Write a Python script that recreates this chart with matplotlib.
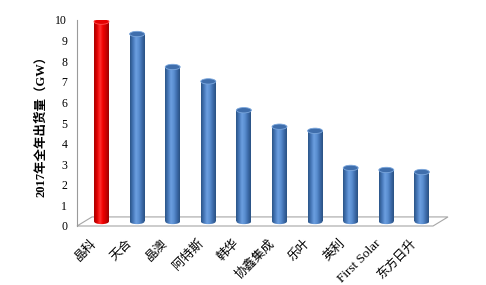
import matplotlib

matplotlib.use("Agg")

import matplotlib.pyplot as plt
import numpy as np
from matplotlib.colors import LinearSegmentedColormap
from matplotlib.patches import Ellipse, Polygon
from matplotlib.transforms import ScaledTranslation

# data
companies = ["晶科", "天合", "晶澳", "阿特斯", "韩华", "协鑫集成", "乐叶", "英利", "First Solar", "东方日升"]
shipments_gw = [9.7, 9.1, 7.5, 6.8, 5.4, 4.6, 4.4, 2.6, 2.5, 2.4]
highlight = [True, False, False, False, False, False, False, False, False, False]

Y_TICKS = list(range(0, 11))
Y_LABEL = "2017年全年出货量（GW）"

# look of the fake 3d cylinders
BAR_WIDTH = 0.42
CAP_H = 0.26          # height of the elliptic caps, in data units
FLOOR_DX = 0.42       # depth shift of the floor, data units
FLOOR_DY = 0.44
BASE = FLOOR_DY / 2   # bars stand in the middle of the floor

BLUE = LinearSegmentedColormap.from_list(
    "blue_cyl", ["#2b5587", "#4677b8", "#6c9fe0", "#5a8ed0", "#3d6cab", "#2a5283"])
RED = LinearSegmentedColormap.from_list(
    "red_cyl", ["#a80000", "#e00000", "#ff3030", "#f20000", "#cc0000", "#9c0000"])

plt.rcParams["font.family"] = ["Liberation Serif", "Noto Sans CJK SC"]

fig = plt.figure(figsize=(4.86, 2.85), dpi=100)
ax = fig.add_axes([77 / 486, 59 / 285, 371 / 486, 206 / 285])

n = len(companies)
x = np.arange(n)
xlim = (-0.688, n - 1 + 0.733)
ylim = (0, 10)

# floor of the 3d plot
floor = Polygon([(xlim[0], 0), (xlim[1] - FLOOR_DX, 0),
                 (xlim[1], FLOOR_DY), (xlim[0] + FLOOR_DX, FLOOR_DY)],
                closed=True, facecolor="white", edgecolor="#a6a6a6",
                linewidth=0.8, zorder=1, clip_on=False)
ax.add_patch(floor)

bars = ax.bar(x, shipments_gw, width=BAR_WIDTH, bottom=BASE,
              color="none", edgecolor="none", zorder=2)

grad = np.linspace(0, 1, 64).reshape(1, -1)
for rect, val, hot in zip(bars, shipments_gw, highlight):
    cmap = RED if hot else BLUE
    x0 = rect.get_x()
    w = rect.get_width()
    xc = x0 + w / 2
    top = BASE + val
    # bottom cap (lower half shows below the body)
    bot = Ellipse((xc, BASE), w, CAP_H, facecolor="none", edgecolor="none", zorder=2)
    ax.add_patch(bot)
    im = ax.imshow(grad, extent=[x0, x0 + w, BASE - CAP_H, top], aspect="auto",
                   cmap=cmap, zorder=2, interpolation="bilinear")
    im.set_clip_path(bot)
    im2 = ax.imshow(grad, extent=[x0, x0 + w, BASE - CAP_H, top], aspect="auto",
                    cmap=cmap, zorder=2.1, interpolation="bilinear")
    im2.set_clip_path(rect)
    # top cap
    cap_face = "#e60000" if hot else "#3f6eac"
    cap_edge = "#ff5050" if hot else "#7aa6dc"
    ax.add_patch(Ellipse((xc, top), w, CAP_H, facecolor=cap_face,
                         edgecolor=cap_edge, linewidth=0.6, zorder=3))

ax.set_xlim(*xlim)
ax.set_ylim(*ylim)

for side in ["top", "right", "bottom"]:
    ax.spines[side].set_visible(False)
ax.spines["left"].set_color("#9a9a9a")
ax.spines["left"].set_linewidth(0.8)

ax.set_yticks(Y_TICKS)
ax.tick_params(axis="y", length=0, pad=7, labelsize=8.5)
ax.set_ylabel(Y_LABEL, fontsize=9, fontweight="bold", labelpad=6)

ax.set_xticks(x)
ax.set_xticklabels(companies, rotation=45, ha="right", va="center",
                   rotation_mode="anchor", fontsize=9)
ax.tick_params(axis="x", length=0, pad=11)
shift = ScaledTranslation(-7 / 100, 0, fig.dpi_scale_trans)
for lbl in ax.get_xticklabels():
    lbl.set_transform(lbl.get_transform() + shift)
    # latin text runs small next to the CJK glyphs
    if lbl.get_text().isascii():
        lbl.set_fontsize(9.5)

fig.savefig("out.png", dpi=100)
